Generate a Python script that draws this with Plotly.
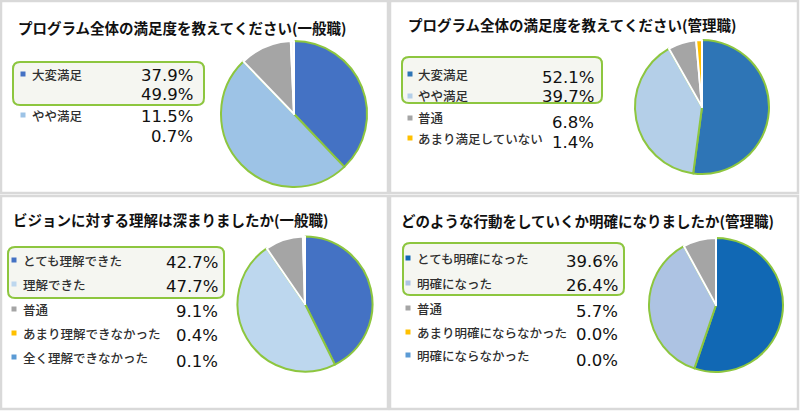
import plotly.graph_objects as go

# ---------------- data ----------------
titles = [
    "プログラム全体の満足度を教えてください(一般職)",
    "プログラム全体の満足度を教えてください(管理職)",
    "ビジョンに対する理解は深まりましたか(一般職)",
    "どのような行動をしていくか明確になりましたか(管理職)",
]

p1_labels = ["大変満足", "", "やや満足", ""]
p1_values = [37.9, 49.9, 11.5, 0.7]
p1_text = ["37.9%", "49.9%", "11.5%", "0.7%"]

p2_labels = ["大変満足", "やや満足", "普通", "あまり満足していない"]
p2_values = [52.1, 39.7, 6.8, 1.4]
p2_text = ["52.1%", "39.7%", "6.8%", "1.4%"]

p3_labels = ["とても理解できた", "理解できた", "普通", "あまり理解できなかった", "全く理解できなかった"]
p3_values = [42.7, 47.7, 9.1, 0.4, 0.1]
p3_text = ["42.7%", "47.7%", "9.1%", "0.4%", "0.1%"]

p4_labels = ["とても明確になった", "明確になった", "普通", "あまり明確にならなかった", "明確にならなかった"]
p4_values = [39.6, 26.4, 5.7, 0.0, 0.0]
p4_text = ["39.6%", "26.4%", "5.7%", "0.0%", "0.0%"]

# ---------------- styles / layout ----------------
W, H = 800, 411
GREEN = "#8dc63f"
JP = "Noto Sans CJK JP"
NUM = "DejaVu Sans"

def px(x):
    return x / W

def py(y):
    return 1 - y / H

panels = [
    dict(title=titles[0], labels=p1_labels, values=p1_values, text=p1_text,
         colors=["#4472c4", "#9dc3e6", "#a5a5a5", "#f7f7f7"],
         legend_colors=["#4472c4", None, "#9dc3e6", None],
         frame=(1, 1, 388, 193), title_xy=(17, 27),
         box=(13, 62, 204, 105), marker_x=23, label_x=31, value_x=194,
         label_y=[74, None, 115, None], value_y=[75, 94.5, 116.5, 136],
         pie=(294, 114, 146)),
    dict(title=titles[1], labels=p2_labels, values=p2_values, text=p2_text,
         colors=["#2e75b6", "#b4cfe8", "#a5a5a5", "#ffc000"],
         legend_colors=["#2e75b6", "#b4cfe8", "#a5a5a5", "#ffc000"],
         frame=(390, 1, 798, 193), title_xy=(407, 24),
         box=(402, 57, 602, 103), marker_x=410, label_x=417, value_x=595,
         label_y=[74, 96, 118, 138], value_y=[77, 96.5, 122, 142],
         pie=(702, 107, 134)),
    dict(title=titles[2], labels=p3_labels, values=p3_values, text=p3_text,
         colors=["#4472c4", "#bdd7ee", "#a5a5a5", "#ffc000", "#5b9bd5"],
         legend_colors=["#4472c4", "#bdd7ee", "#a5a5a5", "#ffc000", "#5b9bd5"],
         frame=(1, 196, 388, 409), title_xy=(12, 219),
         box=(8, 247, 224, 298), marker_x=14, label_x=22, value_x=219,
         label_y=[260, 284, 309, 333, 357], value_y=[262, 286, 311, 335, 361],
         pie=(305, 304, 135)),
    dict(title=titles[3], labels=p4_labels, values=p4_values, text=p4_text,
         colors=["#1168b4", "#adc3e3", "#a5a5a5", "#ffc000", "#5b9bd5"],
         legend_colors=["#1168b4", "#adc3e3", "#a5a5a5", "#ffc000", "#5b9bd5"],
         frame=(390, 196, 798, 409), title_xy=(400, 220),
         box=(403, 243, 624, 295), marker_x=408, label_x=416, value_x=619,
         label_y=[258, 283, 308, 332, 355], value_y=[261, 285, 311, 334, 360],
         pie=(716, 305, 134)),
]

fig = go.Figure()
shapes = []
annotations = []

def rounded_rect(x0, y0, x1, y1, r):
    rx, ry = r / W, r / H
    X0, X1 = px(x0), px(x1)
    Y0, Y1 = py(y0), py(y1)  # Y0 top (larger)
    return (f"M {X0+rx},{Y0} L {X1-rx},{Y0} Q {X1},{Y0} {X1},{Y0-ry} "
            f"L {X1},{Y1+ry} Q {X1},{Y1} {X1-rx},{Y1} "
            f"L {X0+rx},{Y1} Q {X0},{Y1} {X0},{Y1+ry} "
            f"L {X0},{Y0-ry} Q {X0},{Y0} {X0+rx},{Y0} Z")

for p in panels:
    fx0, fy0, fx1, fy1 = p["frame"]
    shapes.append(dict(type="rect", xref="paper", yref="paper",
                       x0=px(fx0), x1=px(fx1), y0=py(fy1), y1=py(fy0),
                       line=dict(color="#d9d9d9", width=2.5), layer="below"))
    bx0, by0, bx1, by1 = p["box"]
    shapes.append(dict(type="path", xref="paper", yref="paper",
                       path=rounded_rect(bx0, by0, bx1, by1, 7),
                       line=dict(color=GREEN, width=2), fillcolor="#f5f6f1",
                       layer="below"))
    tx, ty = p["title_xy"]
    annotations.append(dict(text=f"<b>{p['title']}</b>", x=px(tx), y=py(ty),
                            xref="paper", yref="paper", xanchor="left", yanchor="middle",
                            showarrow=False, borderpad=0,
                            font=dict(family=JP, size=14.5, color="#111111")))
    for i, lab in enumerate(p["labels"]):
        ly = p["label_y"][i]
        if lab and ly is not None:
            annotations.append(dict(text=lab, x=px(p["label_x"]), y=py(ly),
                                    xref="paper", yref="paper", xanchor="left",
                                    yanchor="middle", showarrow=False, borderpad=0,
                                    font=dict(family=JP, size=12.5, color="#2f2f2f",
                                              weight=500)))
            c = p["legend_colors"][i]
            if c:
                mx = p["marker_x"]
                shapes.append(dict(type="rect", xref="paper", yref="paper",
                                   x0=px(mx - 2.5), x1=px(mx + 2.5),
                                   y0=py(ly + 2.5), y1=py(ly - 2.5),
                                   fillcolor=c, line=dict(width=0)))
        annotations.append(dict(text=p["text"][i], x=px(p["value_x"]), y=py(p["value_y"][i]),
                                xref="paper", yref="paper", xanchor="right",
                                yanchor="middle", showarrow=False, borderpad=0,
                                font=dict(family=NUM, size=16.5, color="#111111")))
    cx, cy, d = p["pie"]
    n = len(p["values"])
    line_colors = [GREEN, GREEN] + ["#ffffff"] * (n - 2)
    fig.add_trace(go.Pie(
        values=p["values"], labels=[f"s{i}" for i in range(n)],
        sort=False, direction="clockwise", rotation=0,
        marker=dict(colors=p["colors"], line=dict(color=line_colors, width=2)),
        textinfo="none", hoverinfo="percent", showlegend=False,
        domain=dict(x=[px(cx - d / 2), px(cx + d / 2)],
                    y=[py(cy + d / 2), py(cy - d / 2)]),
    ))

fig.update_layout(
    width=W, height=H,
    margin=dict(l=0, r=0, t=0, b=0),
    paper_bgcolor="white", plot_bgcolor="white",
    shapes=shapes, annotations=annotations,
    showlegend=False,
)

fig.write_html("out.html")
